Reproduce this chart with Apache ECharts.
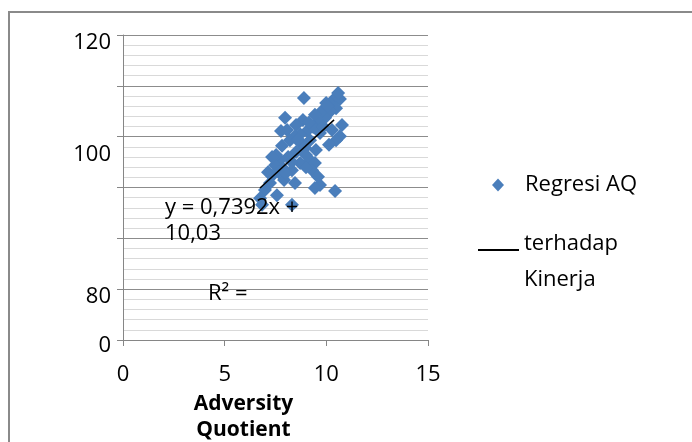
<!DOCTYPE html>
<html>
<head>
<meta charset="utf-8">
<script src="https://cdn.jsdelivr.net/npm/echarts@6/dist/echarts.min.js"></script>
<style>
html,body{margin:0;padding:0;background:#fff;}
#c{width:692px;height:442px;}
</style>
</head>
<body>
<div id="c"></div>
<script>
// ---- data ----
const seriesName = 'Regresi AQ';
const trendName = 'terhadap Kinerja';
const aqX = [8.90,9.99,10.33,10.53,10.67,10.48,10.18,7.97,9.94,9.59,9.35,9.05,8.71,8.46,8.07,7.77,8.21,8.71,9.20,9.69,
  10.28,10.67,10.48,10.13,9.49,8.95,8.51,8.12,7.72,7.53,7.48,7.87,8.31,8.71,9.20,9.44,9.30,9.59,10.43,8.31,
  7.23,6.98,6.74,7.33,7.92,8.46,7.57,6.84,9.79,9.44,10.77,10.58,8.85,8.51,9.69,9.44,7.13,9.00,7.82,7.33,
  8.60,9.15,9.85,8.30,7.65,10.05,9.00,8.00];
const kinerjaY = [107.6,106.6,107.2,107.8,107.4,105.6,104.9,103.7,103.7,102.9,101.9,101.1,100.5,100.1,101.3,101.1,99.3,98.8,99.3,100.7,
  101.3,100.1,99.3,98.4,97.4,97.8,97.0,96.0,95.4,96.4,94.4,93.8,93.4,94.8,95.4,94.8,93.4,92.1,89.3,86.6,
  90.9,89.5,87.9,92.3,91.5,90.9,88.5,86.6,105.1,104.3,102.3,108.6,103.3,102.3,90.5,89.9,93.0,96.4,98.2,96.0,
  99.5,102.8,102.0,95.0,93.0,106.0,94.0,92.8];
const trendX = [6.74, 10.38];
const trendY = [89.9, 103.3];
const yTickValues = [120, 100, 70, 60];
const yTickTexts = ['120', '100', '80', '0'];
const eqLine1 = 'y = 0,7392x +';
const eqLine2 = '10,03';
const r2Text = 'R² =';
const xAxisTitle = 'Adversity\nQuotient';

// ---- build ----
const FONT = 'Open Sans';
const yShift = [16, 36, 16, 12];
const yRich = { n: { fontSize: 22, fontFamily: FONT, color: '#000', lineHeight: 24 } };
yShift.forEach((h, i) => { yRich['s' + i] = { fontSize: 1, lineHeight: h, height: h }; });

const chart = echarts.init(document.getElementById('c'), null, { renderer: 'canvas' });
chart.setOption({
  animation: false,
  backgroundColor: '#fff',
  grid: { left: 123, right: 264, top: 35, bottom: 102, containLabel: false, outerBoundsMode: 'none' },
  xAxis: {
    type: 'value', min: 0, max: 15, interval: 5,
    axisLine: { show: true, onZero: false, lineStyle: { color: '#868686', width: 1 } },
    axisTick: { show: true, length: 6, lineStyle: { color: '#868686' } },
    splitLine: { show: false },
    axisLabel: { fontSize: 22, fontFamily: FONT, color: '#000', margin: 24 },
    name: xAxisTitle, nameLocation: 'middle', nameGap: 50,
    nameTextStyle: { fontSize: 21, fontWeight: 'bold', fontFamily: FONT, color: '#000', lineHeight: 26, padding: [0, 64, 0, 0] }
  },
  yAxis: {
    type: 'value', min: 60, max: 120, interval: 10,
    axisLine: { show: true, lineStyle: { color: '#868686', width: 1 } },
    axisTick: { show: true, length: 6, lineStyle: { color: '#868686' } },
    minorTick: { show: false, splitNumber: 5 },
    splitLine: { show: true, lineStyle: { color: '#8c8c8c', width: 1 } },
    minorSplitLine: { show: true, lineStyle: { color: '#d9d9d9', width: 1 } },
    axisLabel: {
      margin: 12,
      formatter: function (v) {
        const i = yTickValues.indexOf(v);
        if (i < 0) return '';
        return '{s' + i + '| }\n{n|' + yTickTexts[i] + '}';
      },
      rich: yRich
    }
  },
  legend: [
    {
      data: [{ name: seriesName, icon: 'diamond' }],
      left: 487, top: 169, itemWidth: 12, itemHeight: 13,
      formatter: n => '{a|' + n + '}',
      textStyle: { rich: { a: { fontSize: 22, fontFamily: FONT, color: '#000', lineHeight: 28, padding: [0, 0, 0, 16] } } }
    },
    {
      data: [trendName],
      left: 472, top: 197, itemWidth: 41, itemHeight: 2,
      formatter: () => '{e| }\n{a|terhadap}\n{a|Kinerja}',
      textStyle: { rich: {
        e: { fontSize: 1, lineHeight: 24, height: 24 },
        a: { fontSize: 22, fontFamily: FONT, color: '#000', lineHeight: 36 }
      } }
    }
  ],
  series: [
    {
      name: seriesName, type: 'scatter', symbol: 'diamond', symbolSize: 14,
      itemStyle: { color: '#4A7EBB', opacity: 1 },
      data: aqX.map((x, i) => [x, kinerjaY[i]]), z: 2
    },
    {
      name: trendName, type: 'line', symbol: 'none', showSymbol: false,
      lineStyle: { color: '#000', width: 1.5 },
      itemStyle: { color: '#000' },
      data: trendX.map((x, i) => [x, trendY[i]]), z: 3
    }
  ],
  graphic: [
    { type: 'rect', shape: { x: 9, y: 12, width: 720, height: 460 }, style: { fill: 'none', stroke: '#8a8a8a', lineWidth: 2 }, z: 100, silent: true },
    { type: 'text', left: 165, top: 197, style: { text: eqLine1, fontSize: 22, fontFamily: FONT, fill: '#000' }, z: 100 },
    { type: 'text', left: 165, top: 223, style: { text: eqLine2, fontSize: 22, fontFamily: FONT, fill: '#000' }, z: 100 },
    { type: 'text', left: 208, top: 283, style: { text: r2Text, fontSize: 22, fontFamily: FONT, fill: '#000' }, z: 100 }
  ]
});
</script>
</body>
</html>
